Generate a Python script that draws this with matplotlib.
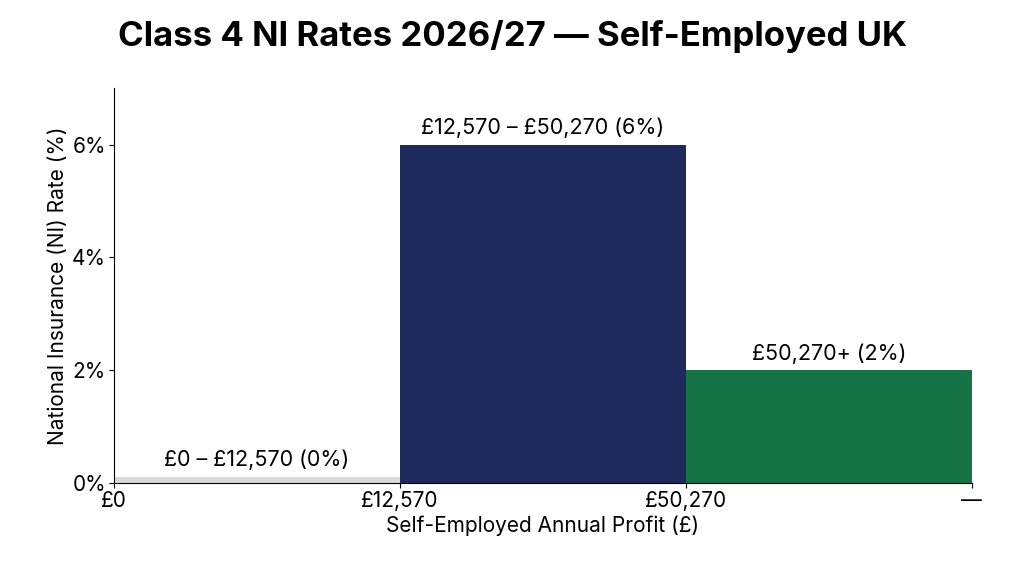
import matplotlib
matplotlib.use("Agg")
import matplotlib.pyplot as plt
from matplotlib.ticker import FuncFormatter

plt.rcParams['font.family'] = ['Inter', 'DejaVu Sans']

# bands
edges = [0, 1, 2, 3]
edge_labels = ["£0", "£12,570", "£50,270", "—"]
rates = [0.12, 6, 2]
band_labels = ["£0 – £12,570 (0%)", "£12,570 – £50,270 (6%)", "£50,270+ (2%)"]
colors = ["#d9d9d9", "#1f2a5c", "#177245"]

fig, ax = plt.subplots(figsize=(10.24, 5.72), dpi=100)
fig.subplots_adjust(left=0.111, right=0.949, top=0.846, bottom=0.155)

for i, r in enumerate(rates):
    ax.bar(edges[i], r, width=1, align='edge', color=colors[i])
    ax.text(edges[i] + 0.5, r + 0.12, band_labels[i], ha='center', va='bottom', fontsize=15.5)

ax.set_xlim(0, 3)
ax.set_ylim(0, 7)
ax.set_xticks(edges)
ax.set_xticklabels(edge_labels, fontsize=15)
ax.set_yticks([0, 2, 4, 6])
ax.yaxis.set_major_formatter(FuncFormatter(lambda v, p: f"{v:.0f}%"))
ax.tick_params(axis='y', labelsize=15)
ax.tick_params(axis='both', pad=2)
ax.spines['top'].set_visible(False)
ax.spines['right'].set_visible(False)
ax.set_xlabel("Self-Employed Annual Profit (£)", fontsize=15, labelpad=3)
ax.set_ylabel("National Insurance (NI) Rate (%)", fontsize=15, labelpad=3)
fig.suptitle("Class 4 NI Rates 2026/27 — Self-Employed UK", fontsize=25, fontweight='bold', y=0.965)

fig.savefig("out.png")
